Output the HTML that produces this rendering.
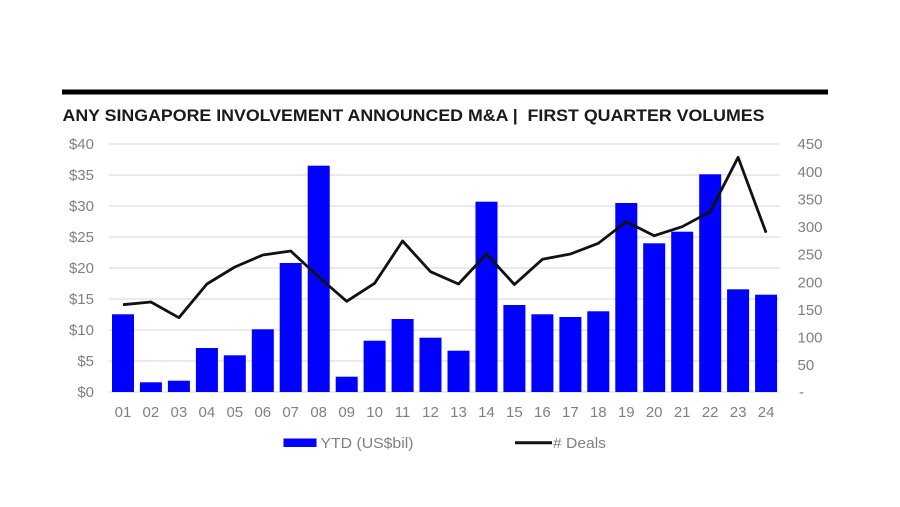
<!DOCTYPE html>
<html><head><meta charset="utf-8"><style>
html,body{margin:0;padding:0;background:#fff;}
svg{display:block;}
text{font-family:"Liberation Sans",Arial,sans-serif;}
</style></head><body>
<svg width="900" height="507" viewBox="0 0 900 507" xmlns="http://www.w3.org/2000/svg">
<rect width="900" height="507" fill="#fff"/>
<rect x="62" y="89.5" width="766" height="5" fill="#000"/>
<text x="62.5" y="121" font-size="16.5" font-weight="bold" fill="#1a1a1a" textLength="702" lengthAdjust="spacingAndGlyphs">ANY SINGAPORE INVOLVEMENT ANNOUNCED M&amp;A |&#160; FIRST QUARTER VOLUMES</text>
<g stroke="#e3e3e3" stroke-width="1.5">
<line x1="109" x2="780" y1="144" y2="144"/>
<line x1="109" x2="780" y1="175" y2="175"/>
<line x1="109" x2="780" y1="206" y2="206"/>
<line x1="109" x2="780" y1="237" y2="237"/>
<line x1="109" x2="780" y1="268" y2="268"/>
<line x1="109" x2="780" y1="299" y2="299"/>
<line x1="109" x2="780" y1="330" y2="330"/>
<line x1="109" x2="780" y1="361" y2="361"/>
<line x1="109" x2="780" y1="392" y2="392"/>
</g>
<g font-size="15" fill="#808080" text-anchor="end">
<text x="94" y="149">$40</text>
<text x="94" y="180">$35</text>
<text x="94" y="211">$30</text>
<text x="94" y="242">$25</text>
<text x="94" y="273">$20</text>
<text x="94" y="304">$15</text>
<text x="94" y="335">$10</text>
<text x="94" y="366">$5</text>
<text x="94" y="397">$0</text>
</g>
<g font-size="15" fill="#808080">
<text x="797.5" y="149">450</text>
<text x="797.5" y="177">400</text>
<text x="797.5" y="204.5">350</text>
<text x="797.5" y="232">300</text>
<text x="797.5" y="259.5">250</text>
<text x="797.5" y="287.5">200</text>
<text x="797.5" y="315">150</text>
<text x="797.5" y="342.5">100</text>
<text x="797.5" y="370">50</text>
<text x="799" y="397">-</text>
</g>
<g fill="#0000ff">
<rect x="112" y="314.3" width="22" height="77.7"/>
<rect x="139.9" y="382.3" width="22" height="9.7"/>
<rect x="167.9" y="380.7" width="22" height="11.3"/>
<rect x="195.9" y="348" width="22" height="44"/>
<rect x="223.8" y="355.3" width="22" height="36.7"/>
<rect x="251.8" y="329.3" width="22" height="62.7"/>
<rect x="279.7" y="263" width="22" height="129"/>
<rect x="307.7" y="165.7" width="22" height="226.3"/>
<rect x="335.7" y="376.7" width="22" height="15.3"/>
<rect x="363.6" y="340.7" width="22" height="51.3"/>
<rect x="391.6" y="319" width="22" height="73"/>
<rect x="419.5" y="337.7" width="22" height="54.3"/>
<rect x="447.5" y="350.7" width="22" height="41.3"/>
<rect x="475.5" y="201.7" width="22" height="190.3"/>
<rect x="503.4" y="305" width="22" height="87"/>
<rect x="531.4" y="314.3" width="22" height="77.7"/>
<rect x="559.4" y="317" width="22" height="75"/>
<rect x="587.3" y="311.3" width="22" height="80.7"/>
<rect x="615.3" y="203" width="22" height="189"/>
<rect x="643.2" y="243.3" width="22" height="148.7"/>
<rect x="671.2" y="231.7" width="22" height="160.3"/>
<rect x="699.2" y="174.3" width="22" height="217.7"/>
<rect x="727.1" y="289.3" width="22" height="102.7"/>
<rect x="755.1" y="294.7" width="22" height="97.3"/>
</g>
<polyline fill="none" stroke="#111" stroke-width="2.8" stroke-linejoin="round" points="123,304.7 150.9,302 178.9,317.7 206.9,284 234.8,267 262.8,255 290.7,251 318.7,277 346.7,301.3 374.6,283.3 402.6,241 430.5,271.7 458.5,284 486.5,254 514.4,284.5 542.4,259.3 570.4,254 598.3,243.3 626.3,221.7 654.2,235.7 682.2,226.7 710.2,211.7 738.1,157.3 766.1,232.7"/>
<g font-size="15" fill="#808080" text-anchor="middle">
<text x="123" y="417">01</text>
<text x="150.9" y="417">02</text>
<text x="178.9" y="417">03</text>
<text x="206.9" y="417">04</text>
<text x="234.8" y="417">05</text>
<text x="262.8" y="417">06</text>
<text x="290.7" y="417">07</text>
<text x="318.7" y="417">08</text>
<text x="346.7" y="417">09</text>
<text x="374.6" y="417">10</text>
<text x="402.6" y="417">11</text>
<text x="430.5" y="417">12</text>
<text x="458.5" y="417">13</text>
<text x="486.5" y="417">14</text>
<text x="514.4" y="417">15</text>
<text x="542.4" y="417">16</text>
<text x="570.4" y="417">17</text>
<text x="598.3" y="417">18</text>
<text x="626.3" y="417">19</text>
<text x="654.2" y="417">20</text>
<text x="682.2" y="417">21</text>
<text x="710.2" y="417">22</text>
<text x="738.1" y="417">23</text>
<text x="766.1" y="417">24</text>
</g>
<rect x="283.5" y="438.5" width="33" height="8.5" fill="#0000ff"/>
<text x="320.5" y="448" font-size="15" fill="#808080" textLength="93" lengthAdjust="spacingAndGlyphs">YTD (US$bil)</text>
<line x1="515" x2="552" y1="442.7" y2="442.7" stroke="#111" stroke-width="3"/>
<text x="553" y="448" font-size="15" fill="#808080" textLength="53" lengthAdjust="spacingAndGlyphs"># Deals</text>
</svg>
</body></html>
